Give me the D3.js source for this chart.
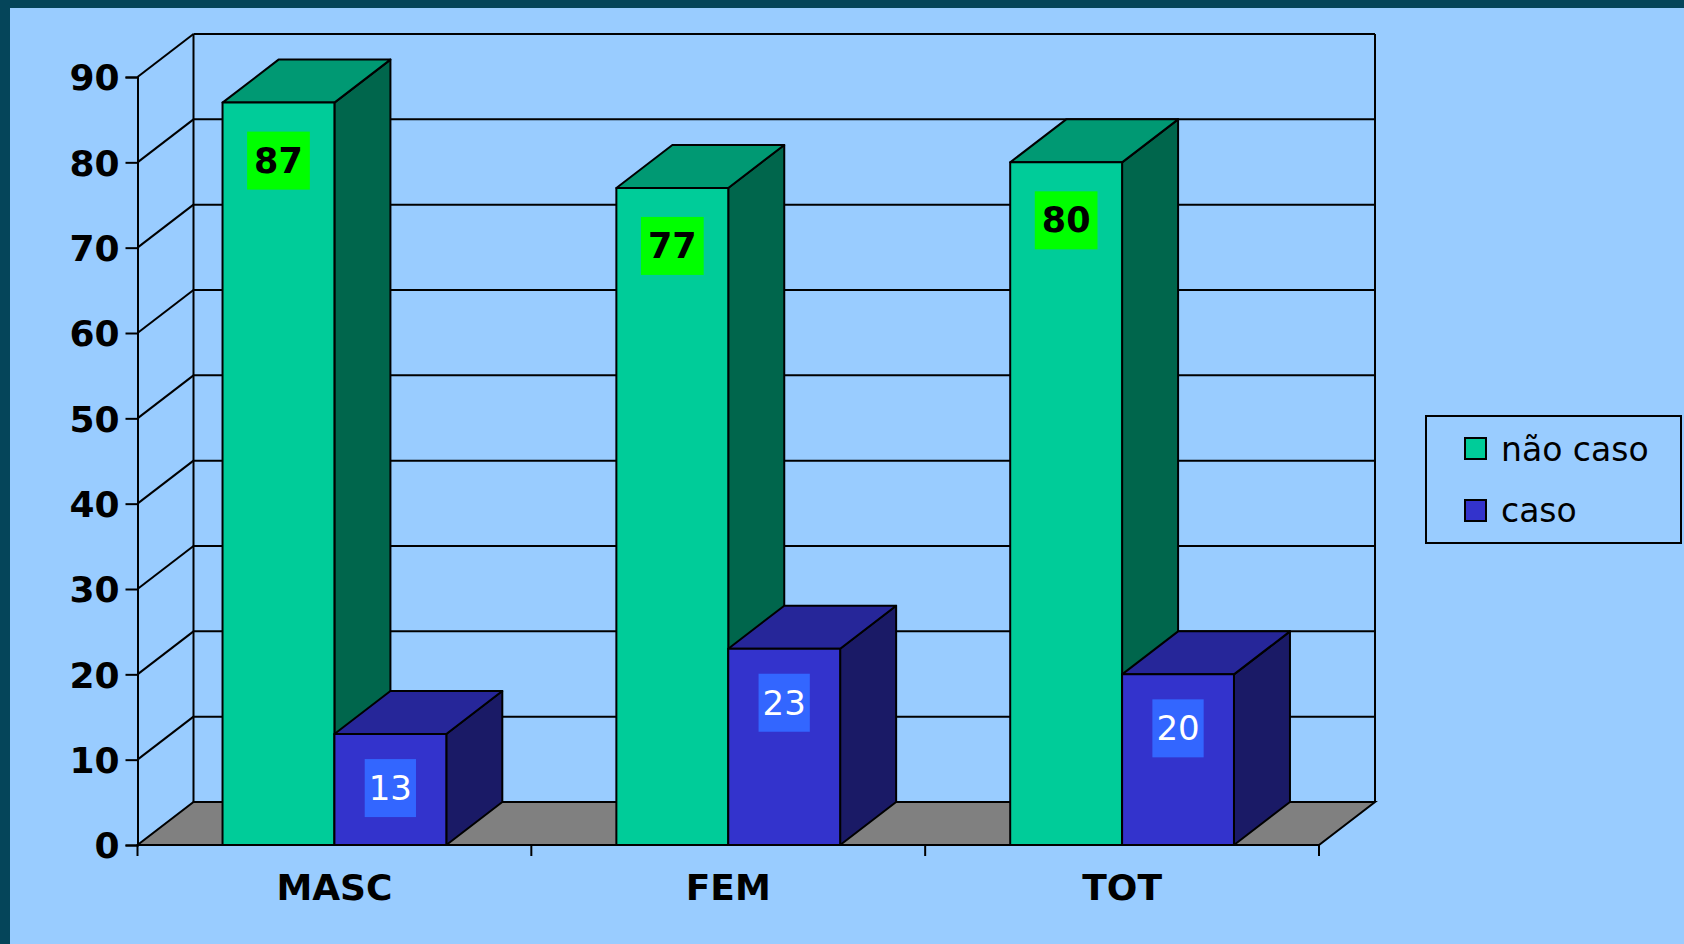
<!DOCTYPE html>
<html>
<head>
<meta charset="utf-8">
<script src="https://cdn.jsdelivr.net/npm/d3@7"></script>
<style>
  body { margin: 0; background: #05455a; }
  svg { display: block; font-family: Verdana, "DejaVu Sans", sans-serif; }
</style>
</head>
<body>
<div id="chart"></div>
<script>
var categories = ['MASC', 'FEM', 'TOT'];
var seriesNames = ['não caso', 'caso'];
var naoCaso = [87, 77, 80];
var caso = [13, 23, 20];
var yTicks = [0, 10, 20, 30, 40, 50, 60, 70, 80, 90];

var width = 1684, height = 944;
var depth = { dx: 56, dy: -43 };

// colours per series: front, top, side, label box, label text
var colors = [
  { front: '#00cc99', top: '#009973', side: '#00664c', box: '#00ff00', text: '#000', weight: 'bold', size: 35, pad: 14, off: 58 },
  { front: '#3333cc', top: '#262699', side: '#1a1a66', box: '#3366ff', text: '#fff', weight: 'normal', size: 34, pad: 8, off: 54 }
];

var svg = d3.select('#chart').append('svg')
  .attr('width', width)
  .attr('height', height);

// dark frame + light blue panel
svg.append('rect').attr('width', width).attr('height', height).attr('fill', '#05455a');
svg.append('rect').attr('x', 10).attr('y', 8).attr('width', width - 10).attr('height', height - 8).attr('fill', '#99ccff');

var x = d3.scaleBand().domain(categories).range([137.5, 1319]);
var xs = d3.scaleBand().domain(seriesNames).range([0, x.bandwidth()]).paddingOuter(0.76);
var y = d3.scaleLinear().domain([0, 90]).range([845, 77]);

var x0 = x.range()[0], x1 = x.range()[1];

// floor
var floor = [[x0, y(0)], [x1, y(0)], [x1 + depth.dx, y(0) + depth.dy], [x0 + depth.dx, y(0) + depth.dy]];
svg.append('polygon')
  .attr('points', floor.join(' '))
  .attr('fill', '#808080')
  .attr('stroke', '#000')
  .attr('stroke-width', 2);

// walls grid
var grid = svg.append('g').attr('stroke', '#000').attr('stroke-width', 2).attr('fill', 'none');
yTicks.forEach(function (t) {
  if (t === 0) return;
  grid.append('line')
    .attr('x1', x0).attr('y1', y(t))
    .attr('x2', x0 + depth.dx).attr('y2', y(t) + depth.dy);
  grid.append('line')
    .attr('x1', x0 + depth.dx).attr('y1', y(t) + depth.dy)
    .attr('x2', x1 + depth.dx).attr('y2', y(t) + depth.dy);
});
grid.append('line')
  .attr('x1', x0 + depth.dx).attr('y1', y(0) + depth.dy)
  .attr('x2', x0 + depth.dx).attr('y2', y(90) + depth.dy);
grid.append('line')
  .attr('x1', x1 + depth.dx).attr('y1', y(0) + depth.dy)
  .attr('x2', x1 + depth.dx).attr('y2', y(90) + depth.dy);

// y axis
var yAxis = svg.append('g')
  .attr('transform', 'translate(' + x0 + ',0)')
  .call(d3.axisLeft(y).tickValues(yTicks).tickSize(12).tickPadding(6));
yAxis.select('.domain').attr('stroke', '#000').attr('stroke-width', 2);
yAxis.selectAll('.tick line').attr('stroke', '#000').attr('stroke-width', 2);
yAxis.selectAll('.tick text')
  .attr('font-size', 36).attr('font-weight', 'bold').attr('fill', '#000')
  .attr('dy', '0.36em')
  .attr('font-family', 'Verdana, "DejaVu Sans", sans-serif');

// x axis (front floor edge), ticks at category boundaries
var xAxisG = svg.append('g').attr('stroke', '#000').attr('stroke-width', 2);
xAxisG.append('line').attr('x1', x0).attr('x2', x1).attr('y1', y(0)).attr('y2', y(0));
categories.concat([null]).forEach(function (c) {
  var px = c === null ? x1 : x(c);
  xAxisG.append('line').attr('x1', px).attr('x2', px).attr('y1', y(0)).attr('y2', y(0) + 11);
});
svg.append('g').selectAll('text')
  .data(categories)
  .enter().append('text')
  .attr('x', function (d) { return x(d) + x.bandwidth() / 2; })
  .attr('y', 900)
  .attr('text-anchor', 'middle')
  .attr('font-size', 36)
  .attr('font-weight', 'bold')
  .text(function (d) { return d; });

// 3d bars
var bars = [];
categories.forEach(function (c, i) {
  bars.push({ cat: c, s: 0, v: naoCaso[i] });
  bars.push({ cat: c, s: 1, v: caso[i] });
});

var barG = svg.append('g');
bars.forEach(function (b) {
  var bx = x(b.cat) + xs(seriesNames[b.s]);
  var bw = xs.bandwidth();
  var top = y(b.v), base = y(0);
  var col = colors[b.s];
  var g = barG.append('g').attr('stroke', '#000').attr('stroke-width', 2).attr('stroke-linejoin', 'round');
  g.append('polygon')
    .attr('points', [[bx + bw, base], [bx + bw + depth.dx, base + depth.dy], [bx + bw + depth.dx, top + depth.dy], [bx + bw, top]].join(' '))
    .attr('fill', col.side);
  g.append('polygon')
    .attr('points', [[bx, top], [bx + depth.dx, top + depth.dy], [bx + bw + depth.dx, top + depth.dy], [bx + bw, top]].join(' '))
    .attr('fill', col.top);
  g.append('rect')
    .attr('x', bx).attr('y', top).attr('width', bw).attr('height', base - top)
    .attr('fill', col.front);
});

// data labels with background boxes
bars.forEach(function (b) {
  var col = colors[b.s];
  var cx = x(b.cat) + xs(seriesNames[b.s]) + xs.bandwidth() / 2;
  var cy = y(b.v) + col.off;
  var lg = svg.append('g');
  var box = lg.append('rect').attr('fill', col.box);
  var t = lg.append('text')
    .attr('x', cx).attr('y', cy + 12)
    .attr('text-anchor', 'middle')
    .attr('font-size', col.size)
    .attr('font-weight', col.weight)
    .attr('fill', col.text)
    .text(b.v);
  var w = t.node().getComputedTextLength() + col.pad;
  box.attr('x', cx - w / 2).attr('y', cy - 29).attr('width', w).attr('height', 58);
});

// legend
var legend = svg.append('g').attr('transform', 'translate(1426,416)');
legend.append('rect')
  .attr('width', 255).attr('height', 127)
  .attr('fill', '#99ccff').attr('stroke', '#000').attr('stroke-width', 2);
seriesNames.forEach(function (name, i) {
  legend.append('rect')
    .attr('x', 39).attr('y', 22 + i * 62)
    .attr('width', 21).attr('height', 21)
    .attr('fill', colors[i].front)
    .attr('stroke', '#000').attr('stroke-width', 2);
  legend.append('text')
    .attr('x', 75).attr('y', 45 + i * 61)
    .attr('font-size', 33)
    .text(name);
});
</script>
</body>
</html>
